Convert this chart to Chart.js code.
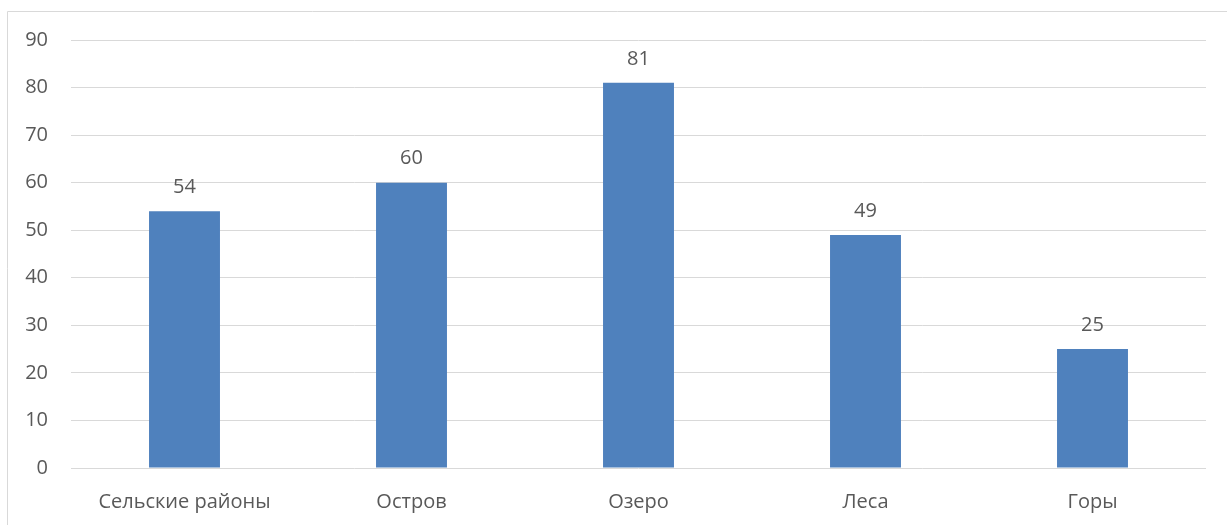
<!DOCTYPE html>
<html>
<head>
<meta charset="utf-8">
<script src="https://cdn.jsdelivr.net/npm/chart.js@4"></script>
<style>
  html, body { margin: 0; padding: 0; background: #fff; }
  #wrap { width: 1227px; height: 525px; }
</style>
</head>
<body>
<div id="wrap"><canvas id="myChart"></canvas></div>
<script>
const categories = ['Сельские районы', 'Остров', 'Озеро', 'Леса', 'Горы'];
const values = [54, 60, 81, 49, 25];
const yTicks = [0, 10, 20, 30, 40, 50, 60, 70, 80, 90];

const textColor = '#595959';
const gridColor = '#d9d9d9';
const font = { family: '"Open Sans", sans-serif', size: 20 };

// thin frame around the chart, open at right and bottom
const frame = {
  id: 'frame',
  beforeDraw(chart) {
    const c = chart.ctx;
    c.save();
    c.strokeStyle = gridColor;
    c.lineWidth = 1;
    c.beginPath();
    c.moveTo(7.5, chart.height);
    c.lineTo(7.5, 11.5);
    c.lineTo(chart.width, 11.5);
    c.stroke();
    c.restore();
  }
};

// value above each bar
const barValues = {
  id: 'barValues',
  afterDatasetsDraw(chart) {
    const c = chart.ctx;
    const meta = chart.getDatasetMeta(0);
    c.save();
    c.fillStyle = textColor;
    c.font = font.size + 'px ' + font.family;
    c.textAlign = 'center';
    c.textBaseline = 'middle';
    meta.data.forEach((bar, i) => {
      c.fillText(String(values[i]), bar.x, bar.y - 24);
    });
    c.restore();
  }
};

const ctx = document.getElementById('myChart');

new Chart(ctx, {
  type: 'bar',
  data: {
    labels: categories,
    datasets: [{
      data: values,
      backgroundColor: '#4f81bd',
      barPercentage: 0.3125,
      categoryPercentage: 1
    }]
  },
  options: {
    responsive: true,
    maintainAspectRatio: false,
    animation: false,
    layout: { padding: { top: 40, right: 21, bottom: 0, left: 0 } },
    plugins: {
      legend: { display: false },
      tooltip: { enabled: false }
    },
    scales: {
      x: {
        grid: { display: false, drawTicks: false },
        border: { display: false },
        ticks: { color: textColor, font: font, padding: 22, maxRotation: 0 },
        afterFit(axis) { axis.height = 57; }
      },
      y: {
        min: 0,
        max: 90,
        afterBuildTicks(axis) { axis.ticks = yTicks.map(v => ({ value: v })); },
        grid: { color: gridColor, lineWidth: 1, drawTicks: false },
        border: { display: false },
        ticks: { color: textColor, font: font, padding: 23 },
        afterFit(axis) { axis.width = 71; }
      }
    }
  },
  plugins: [frame, barValues]
});
</script>
</body>
</html>
